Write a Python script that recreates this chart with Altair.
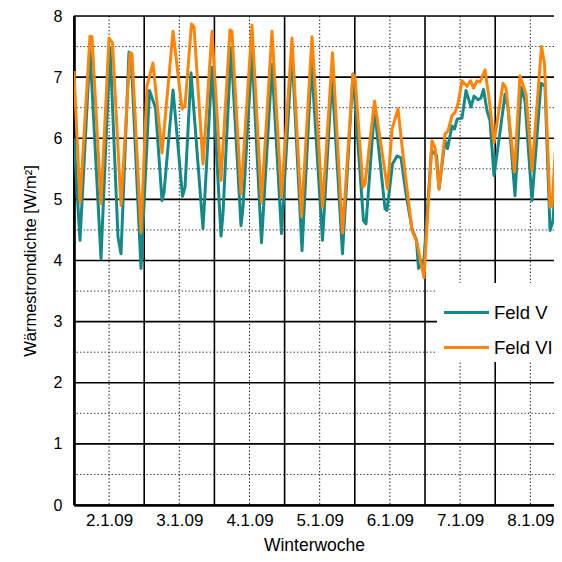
import altair as alt
import pandas as pd

# ---- data (hours since start of week, W/m^2) ----
hours_v = [0, 2.05, 5.47, 9.23, 12.31, 15.04, 16.07, 18.8, 19.49, 22.9, 25.81, 27.86, 30.09, 30.77,
           33.85, 37.09, 37.95, 40.0, 44.1, 47.18, 50.26, 50.94, 53.68, 57.09, 57.78, 60.85, 64.1,
           67.69, 70.94, 74.53, 77.95, 81.2, 84.96, 88.21, 91.79, 95.38, 98.97, 99.83, 102.74,
           106.32, 107.01, 108.89, 110.43, 111.79, 113.5, 115.56, 117.09, 117.78, 118.97, 119.4,
           122.22, 123.93, 124.79, 126.84, 127.69, 129.23, 130.09, 130.94, 132.65, 134.02, 135.73,
           136.75, 138.12, 139.15, 140.0, 141.2, 142.22, 143.59, 145.64, 147.35, 148.38, 150.77,
           152.82, 154.19, 156.58, 159.66, 161.03, 162.74, 163.76, 165.81, 166.84]
feld_v = [6.0, 4.33, 7.45, 4.03, 7.49, 4.38, 4.11, 7.41, 7.38, 3.87, 6.78, 6.5, 4.98, 5.11,
          6.79, 5.05, 5.2, 7.07, 4.52, 7.16, 4.4, 4.77, 7.48, 4.57, 4.87, 7.4, 4.29,
          7.21, 4.44, 7.42, 4.16, 7.23, 4.33, 7.02, 4.11, 7.05, 4.65, 4.6, 6.48,
          4.85, 4.82, 5.58, 5.71, 5.68, 5.09, 4.52, 4.33, 3.87, 3.95, 3.85,
          5.8, 5.72, 5.17, 5.96, 5.83, 6.2, 6.15, 6.31, 6.33, 6.78, 6.51,
          6.69, 6.63, 6.66, 6.8, 6.45, 6.29, 5.39, 6.1, 6.72, 6.5, 5.06,
          6.83, 6.61, 4.98, 6.9, 6.85, 4.49, 4.65, 6.29, 6.56]

hours_vi = [0, 2.05, 5.47, 6.15, 9.23, 11.97, 13.16, 16.07, 19.15, 19.83, 22.9, 24.96, 27.0, 30.09,
            33.85, 36.92, 37.95, 40.17, 41.03, 44.1, 47.18, 50.26, 53.33, 54.0, 57.09, 60.85, 64.1,
            67.69, 70.94, 74.53, 77.78, 81.37, 84.96, 88.38, 91.79, 95.38, 96.07, 98.8, 99.49,
            102.74, 107.18, 108.72, 110.77, 112.82, 115.56, 117.26, 119.66, 122.39, 123.42, 124.79,
            126.84, 127.86, 129.23, 130.26, 131.28, 132.65, 134.36, 135.56, 136.58, 137.78, 138.8,
            140.51, 141.88, 143.59, 146.67, 147.69, 150.6, 152.48, 154.53, 156.58, 159.83, 160.85,
            162.74, 163.42, 165.13, 166.84]
feld_vi = [7.1, 4.95, 7.67, 7.66, 4.93, 7.64, 7.56, 4.9, 7.4, 7.38, 4.46, 6.86, 7.23, 5.76,
           7.75, 6.48, 6.53, 7.87, 7.82, 5.58, 7.75, 5.31, 7.77, 7.75, 5.09, 7.85, 4.95,
           7.75, 5.03, 7.64, 4.72, 7.66, 4.87, 7.4, 4.45, 7.05, 7.0, 5.2, 5.25,
           6.61, 5.17, 6.15, 6.48, 5.58, 4.49, 4.29, 3.72, 5.96, 5.85, 5.17,
           6.07, 6.12, 6.37, 6.42, 6.56, 6.94, 6.85, 6.94, 6.82, 6.94, 6.92,
           7.12, 6.66, 5.93, 6.9, 6.82, 5.45, 7.02, 6.72, 5.47, 7.5, 7.22,
           4.87, 4.9, 6.25, 6.58]

series_names = ["Feld V", "Feld VI"]
series_colors = ["#14898a", "#ff8408"]
day_labels = ["2.1.09", "3.1.09", "4.1.09", "5.1.09", "6.1.09", "7.1.09", "8.1.09"]
label_hours = [12, 36, 60, 84, 108, 132, 156]
major_x = [0, 24, 48, 72, 96, 120, 144]
minor_x = [12, 36, 60, 84, 108, 132, 156]
major_y = [0, 1, 2, 3, 4, 5, 6, 7, 8]
minor_y = [0.5, 1.5, 2.5, 3.5, 4.5, 5.5, 6.5, 7.5]
x_max = 164.1

FONT = "Liberation Sans"

df = pd.concat([
    pd.DataFrame({"h": hours_v, "w": feld_v, "s": series_names[0]}),
    pd.DataFrame({"h": hours_vi, "w": feld_vi, "s": series_names[1]}),
])

xscale = alt.Scale(domain=[0, x_max], nice=False, zero=False)
yscale = alt.Scale(domain=[0, 8], nice=False, zero=True)

label_expr = "[" + ",".join("'" + l + "'" for l in day_labels) + "][floor(datum.value/24)]"

x_axis = alt.Axis(
    title="Winterwoche", values=label_hours, labelExpr=label_expr, grid=False,
    ticks=False, domain=True, domainColor="black", domainWidth=2.6,
    labelFontSize=17, labelFont=FONT, labelColor="black", labelPadding=7,
    titleFontSize=17.5, titleFont=FONT, titleFontWeight="normal", titleColor="black",
    titlePadding=8,
)
y_axis = alt.Axis(
    title="Wärmestromdichte [W/m²]", values=major_y, grid=False, ticks=False,
    domain=True, domainColor="black", domainWidth=2.6,
    labelFontSize=16, labelFont=FONT, labelColor="black", labelPadding=12,
    titleFontSize=16.5, titleFont=FONT, titleFontWeight="normal", titleColor="black",
    titlePadding=15,
)

minor_h = alt.Chart(pd.DataFrame({"v": minor_y})).mark_rule(
    color="#444", strokeWidth=1, strokeDash=[1.5, 2]
).encode(y=alt.Y("v:Q", scale=yscale, axis=y_axis))
minor_vert = alt.Chart(pd.DataFrame({"v": minor_x})).mark_rule(
    color="#222", strokeWidth=1, strokeDash=[1.5, 2]
).encode(x=alt.X("v:Q", scale=xscale, axis=x_axis))
major_h = alt.Chart(pd.DataFrame({"v": major_y})).mark_rule(
    color="black", strokeWidth=1.6
).encode(y=alt.Y("v:Q", scale=yscale, axis=y_axis))
major_vert = alt.Chart(pd.DataFrame({"v": major_x})).mark_rule(
    color="black", strokeWidth=1.6
).encode(x=alt.X("v:Q", scale=xscale, axis=x_axis))

color = alt.Color(
    "s:N",
    scale=alt.Scale(domain=series_names, range=series_colors),
    title=None,
    legend=alt.Legend(
        orient="none", legendX=363, legendY=267, fillColor="white", padding=5,
        symbolType="stroke", symbolSize=2025, symbolStrokeWidth=3.2,
        labelFontSize=18.5, labelFont=FONT, labelColor="black", rowPadding=1,
        labelOffset=3, symbolOffset=0,
    ),
)

def line_layer(name):
    return alt.Chart(df).transform_filter(alt.datum.s == name).mark_line(
        strokeWidth=3, clip=True, strokeJoin="round"
    ).encode(
        x=alt.X("h:Q", scale=xscale, axis=x_axis),
        y=alt.Y("w:Q", scale=yscale, axis=y_axis),
        color=color,
    )

chart = alt.layer(
    minor_h, minor_vert, major_h, major_vert, line_layer("Feld V"), line_layer("Feld VI")
).properties(
    width=480, height=489,
    autosize=alt.AutoSizeParams(type="none"),
    padding={"left": 66, "top": 8, "right": 0, "bottom": 49},
).configure_view(stroke=None).configure(background="white")

chart.save("out.html", embed_options={"renderer": "svg", "actions": False})
